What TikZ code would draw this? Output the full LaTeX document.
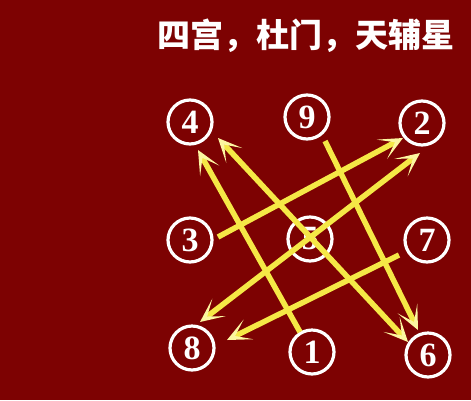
\documentclass[tikz,border=0pt]{standalone}
\usepackage{fontspec}
\setmainfont{Liberation Serif}
\newfontfamily\cjk{Noto Sans CJK SC}
\usetikzlibrary{arrows.meta,calc}
\definecolor{bgred}{RGB}{125,2,2}
\definecolor{ylw}{RGB}{245,232,70}
\definecolor{ylwtip}{RGB}{252,246,160}
\tikzset{
  tipstyle/.tip={Stealth[length=24pt,width=22pt,inset=15pt,line width=0pt,fill=ylwtip,color=ylw]},
  num/.style={circle,draw=white,line width=3.2pt,minimum size=44pt,inner sep=0pt,
    text=white,font=\bfseries\fontsize{34}{34}\selectfont},
  arr/.style={draw=ylw,line width=5.5pt,-tipstyle},
  darr/.style={draw=ylw,line width=5.5pt,tipstyle-tipstyle},
}
\begin{document}
\begin{tikzpicture}[x=1pt,y=-1pt]
\fill[bgred] (0,0) rectangle (471,400);
\useasboundingbox (0,0) rectangle (471,400);
\node[text=white,font=\cjk\bfseries\fontsize{33}{33}\selectfont] (title) at (306,36) {四宫，杜门，天辅星};
\node[num] (n4) at (190,122) {4};
\node[num] (n9) at (307,117) {9};
\node[num] (n2) at (422,123) {2};
\node[num] (n3) at (190,240) {3};
\node[num] (n5) at (310,239) {5};
\node[num] (n7) at (427,240) {7};
\node[num] (n8) at (192,348) {8};
\node[num] (n1) at (312,352) {1};
\node[num] (n6) at (428,355) {6};
% 3 -> 2
\draw[arr] ($(n3)+(28,-3)$) -- ($(n2)+(-19,15)$);
% 8 <-> 2
\draw[darr] ($(n8)+(8,-26)$) -- ($(n2)+(-2,30)$);
% 7 -> 8
\draw[arr] ($(n7)+(-28,15)$) -- ($(n8)+(35,-8)$);
% 9 -> 6
\draw[arr] ($(n9)+(18,24)$) -- ($(n6)+(-10,-25)$);
% 1 -> 4
\draw[arr] ($(n1)+(-12,-20)$) -- ($(n4)+(8,28)$);
% 4 <-> 6
\draw[darr] ($(n4)+(28,16)$) -- ($(n6)+(-20,-13)$);
\end{tikzpicture}
\end{document}
